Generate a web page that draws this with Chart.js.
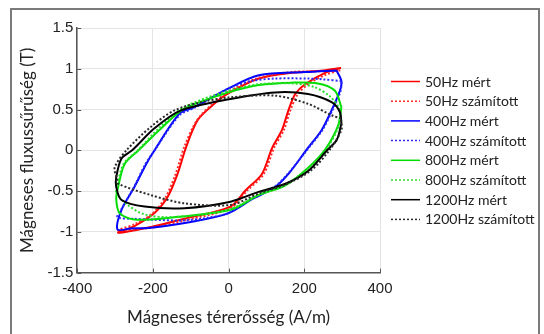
<!DOCTYPE html>
<html>
<head>
<meta charset="utf-8">
<script src="https://cdn.jsdelivr.net/npm/chart.js@4.4.1/dist/chart.umd.min.js"></script>
<style>
    body { margin: 0; background: #fff; }
    #wrap { position: relative; width: 544px; height: 334px; }
    #frame {
        position: absolute; left: 10px; top: 8px; width: 530px; height: 340px;
        border: 2px solid #7a7a7a; box-sizing: border-box; pointer-events: none;
    }
</style>
</head>
<body>
<div id="wrap">
    <canvas id="loopChart" width="544" height="334"></canvas>
    <div id="frame"></div>
</div>
<script>
// Hysteresis loops: [H (A/m), B (T)]
// each loop: right tip -> upper branch -> left tip -> lower branch -> right tip

const loop50Measured = [
    [297, 1.01], [250, 0.98], [167, 0.95], [80, 0.88], [0, 0.70], [-38, 0.57], [-82, 0.37],
    [-113, 0.03], [-135, -0.29], [-161, -0.57], [-196, -0.77], [-249, -0.93], [-292, -1.01],
    [-205, -0.94], [-117, -0.84], [5, -0.69], [45, -0.49], [88, -0.29], [115, 0.03],
    [141, 0.25], [158, 0.49], [176, 0.69], [202, 0.81], [255, 0.95], [297, 1.01]
];
const loop50Computed = [
    [295, 0.98], [250, 0.97], [167, 0.96], [80, 0.89], [0, 0.72], [-40, 0.58], [-85, 0.36],
    [-118, 0.03], [-140, -0.29], [-166, -0.57], [-200, -0.77], [-250, -0.91], [-292, -0.98],
    [-205, -0.95], [-117, -0.86], [5, -0.71], [50, -0.49], [93, -0.29], [120, 0.03],
    [146, 0.25], [163, 0.49], [183, 0.69], [210, 0.81], [258, 0.93], [295, 0.98]
];
const loop400Measured = [
    [285, 0.98], [200, 0.96], [80, 0.92], [0, 0.76], [-91, 0.53], [-130, 0.45], [-200, -0.03],
    [-218, -0.17], [-249, -0.45], [-283, -0.73], [-294, -0.97], [-260, -0.96], [-205, -0.95],
    [-100, -0.88], [0, -0.77], [62, -0.60], [123, -0.45], [158, -0.29], [208, 0.02],
    [246, 0.25], [272, 0.49], [294, 0.73], [298, 0.85], [285, 0.98]
];
const loop400Computed = [
    [298, 0.85], [250, 0.87], [210, 0.88], [123, 0.88], [60, 0.85], [0, 0.76], [-91, 0.52],
    [-130, 0.43], [-200, -0.03], [-220, -0.17], [-250, -0.45], [-283, -0.72], [-294, -0.82],
    [-250, -0.84], [-205, -0.85], [-120, -0.86], [-60, -0.83], [0, -0.77], [62, -0.59],
    [123, -0.44], [158, -0.28], [210, 0.02], [248, 0.25], [274, 0.49], [296, 0.73], [298, 0.85]
];
const loop800Measured = [
    [298, 0.53], [281, 0.73], [236, 0.82], [167, 0.83], [80, 0.80], [0, 0.71], [-117, 0.51],
    [-178, 0.27], [-238, 0.0], [-275, -0.17], [-292, -0.45], [-297, -0.60], [-288, -0.77],
    [-249, -0.85], [-161, -0.83], [5, -0.73], [79, -0.55], [150, -0.43], [211, -0.21],
    [255, 0.01], [289, 0.30], [298, 0.53]
];
const loop800Computed = [
    [296, 0.50], [268, 0.66], [224, 0.78], [167, 0.82], [80, 0.81], [0, 0.73], [-117, 0.53],
    [-180, 0.29], [-240, 0.0], [-278, -0.17], [-295, -0.45], [-297, -0.52], [-270, -0.66],
    [-226, -0.78], [-167, -0.82], [-80, -0.79], [5, -0.72], [79, -0.55], [150, -0.42],
    [214, -0.21], [258, 0.01], [291, 0.30], [296, 0.50]
];
const loop1200Measured = [
    [298, 0.33], [294, 0.47], [272, 0.59], [210, 0.69], [123, 0.71], [5, 0.63], [-126, 0.49],
    [-196, 0.27], [-255, 0.0], [-283, -0.10], [-297, -0.33], [-297, -0.45], [-283, -0.61],
    [-222, -0.69], [-117, -0.71], [5, -0.63], [79, -0.51], [150, -0.41], [211, -0.25],
    [260, 0.0], [286, 0.13], [298, 0.33]
];
const loop1200Computed = [
    [297, 0.39], [272, 0.43], [210, 0.57], [123, 0.67], [5, 0.65], [-73, 0.59], [-143, 0.49],
    [-205, 0.29], [-270, 0.0], [-301, -0.21], [-295, -0.35], [-292, -0.41], [-205, -0.55],
    [-117, -0.65], [5, -0.67], [79, -0.53], [150, -0.42], [217, -0.25], [266, 0.0],
    [298, 0.25], [297, 0.39]
];

const seriesLabels = [
    "50Hz mért", "50Hz számított", "400Hz mért", "400Hz számított",
    "800Hz mért", "800Hz számított", "1200Hz mért", "1200Hz számított"
];
const seriesData = [
    loop50Measured, loop50Computed, loop400Measured, loop400Computed,
    loop800Measured, loop800Computed, loop1200Measured, loop1200Computed
];
const seriesColors = ["#ff0000", "#ff2a2a", "#0000ff", "#2a2aff", "#00dd00", "#2ae02a", "#000000", "#2a2a2a"];

const xTicks = [-400, -200, 0, 200, 400];
const yTicks = [-1.5, -1, -0.5, 0, 0.5, 1, 1.5];

function makeDatasets() {
    let datasets = [];
    for (let i = 0; i < seriesData.length; i++) {
        const dotted = i % 2 == 1;
        datasets.push({
            label: seriesLabels[i],
            data: seriesData[i].map((p) => { return { x: p[0], y: p[1] } }),
            showLine: true,
            borderColor: seriesColors[i],
            backgroundColor: seriesColors[i],
            borderWidth: 2,
            borderDash: dotted ? [2, 2] : [],
            pointRadius: 0,
            tension: 0.3,
            order: seriesData.length - i   // later series drawn on top
        });
    }
    return datasets;
}

// legend on the right, drawn by hand so it keeps dataset order
const sideLegend = {
    id: "sideLegend",
    afterDraw(chart) {
        const ctx = chart.ctx;
        ctx.save();
        ctx.font = "14px Lato, 'Open Sans', sans-serif";
        ctx.textBaseline = "middle";
        chart.data.datasets.forEach((ds, i) => {
            const y = 81.5 + i * 19.7;
            ctx.strokeStyle = ds.borderColor;
            ctx.lineWidth = 1.5;
            ctx.setLineDash(ds.borderDash);
            ctx.beginPath();
            ctx.moveTo(391, y);
            ctx.lineTo(420, y);
            ctx.stroke();
            ctx.setLineDash([]);
            ctx.fillStyle = "#222";
            ctx.fillText(ds.label, 425, y + 0.5);
        });
        ctx.restore();
    }
};

// small inward tick marks on the left and bottom axes
const innerTicks = {
    id: "innerTicks",
    afterDatasetsDraw(chart) {
        const ctx = chart.ctx;
        const area = chart.chartArea;
        ctx.save();
        ctx.strokeStyle = "#555";
        ctx.lineWidth = 1;
        ctx.beginPath();
        for (const v of xTicks) {
            const px = Math.round(chart.scales.x.getPixelForValue(v)) + 0.5;
            ctx.moveTo(px, area.bottom);
            ctx.lineTo(px, area.bottom - 4);
        }
        for (const v of yTicks) {
            const py = Math.round(chart.scales.y.getPixelForValue(v)) + 0.5;
            ctx.moveTo(area.left, py);
            ctx.lineTo(area.left + 4, py);
        }
        ctx.stroke();
        ctx.restore();
    }
};

const tickFont = { family: "'Liberation Sans', Arial, sans-serif", size: 15 };
const titleFont = { family: "Lato, 'Open Sans', sans-serif", size: 17 };

new Chart(document.querySelector("#loopChart"), {
    type: "scatter",
    data: { datasets: makeDatasets() },
    options: {
        responsive: false,
        animation: false,
        layout: { padding: { left: 17, top: 28, right: 164, bottom: 6 } },
        plugins: {
            legend: { display: false },
            tooltip: { enabled: false }
        },
        scales: {
            x: {
                type: "linear",
                min: xTicks[0],
                max: xTicks[xTicks.length - 1],
                afterBuildTicks: (axis) => { axis.ticks = xTicks.map((v) => { return { value: v } }) },
                ticks: { color: "#222", font: tickFont, padding: 7, callback: (v) => String(v) },
                grid: { color: "#e4e4e4", drawTicks: false },
                border: { color: "#555", width: 1.5 },
                title: { display: true, text: "Mágneses térerősség (A/m)", color: "#222", font: titleFont, padding: { top: 3, bottom: 0 } }
            },
            y: {
                type: "linear",
                min: yTicks[0],
                max: yTicks[yTicks.length - 1],
                afterBuildTicks: (axis) => { axis.ticks = yTicks.map((v) => { return { value: v } }) },
                ticks: { color: "#222", font: tickFont, padding: 4, callback: (v) => String(v) },
                grid: { color: "#e4e4e4", drawTicks: false },
                border: { color: "#555", width: 1.5 },
                title: { display: true, text: "Mágneses fluxussűrűség (T)", color: "#222", font: titleFont, padding: { top: 0, bottom: 6 } }
            }
        }
    },
    plugins: [innerTicks, sideLegend]
});
</script>
</body>
</html>
